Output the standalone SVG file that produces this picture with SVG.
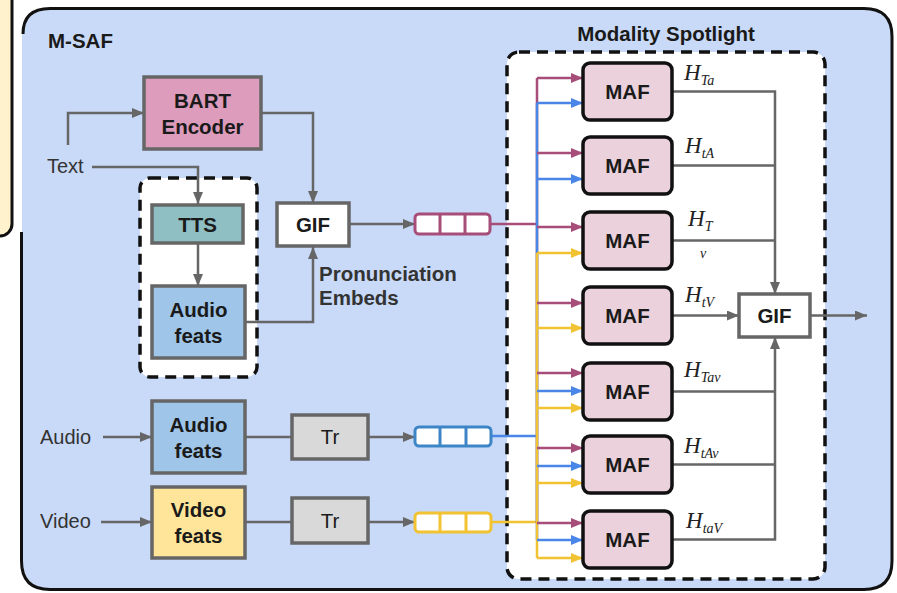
<svg xmlns="http://www.w3.org/2000/svg" width="897" height="593" viewBox="0 0 897 593">
<style>
.lbl{font-family:"Liberation Sans",Arial,sans-serif;font-weight:bold;font-size:20.5px;fill:#1a1a1a;text-anchor:middle}
.plain{font-family:"Liberation Sans",Arial,sans-serif;font-size:20px;fill:#333;}
.box{stroke:#666;stroke-width:3.5}
.maf{fill:#ead1dc;stroke:#111;stroke-width:3.5}
.g{stroke:#666;stroke-width:2.5;fill:none}
.pk{stroke:#a64d79;stroke-width:2.5;fill:none}
.bl{stroke:#4a86e8;stroke-width:2.5;fill:none}
.yl{stroke:#f1c232;stroke-width:2.5;fill:none}
.h{font-family:"Liberation Serif","Times New Roman",serif;font-style:italic;fill:#222}
.hb{font-size:23px}
.hs{font-size:14px}
.tok{fill:#fff;stroke-width:3}
</style>
<defs>
<marker id="ag" viewBox="0 0 12 10" refX="12" refY="5" markerWidth="13" markerHeight="10" markerUnits="userSpaceOnUse" orient="auto"><path d="M0,0 L12,5 L0,10 z" fill="#666"/></marker>
<marker id="ap" viewBox="0 0 12 10" refX="12" refY="5" markerWidth="13" markerHeight="10" markerUnits="userSpaceOnUse" orient="auto"><path d="M0,0 L12,5 L0,10 z" fill="#a64d79"/></marker>
<marker id="ab" viewBox="0 0 12 10" refX="12" refY="5" markerWidth="13" markerHeight="10" markerUnits="userSpaceOnUse" orient="auto"><path d="M0,0 L12,5 L0,10 z" fill="#4a86e8"/></marker>
<marker id="ay" viewBox="0 0 12 10" refX="12" refY="5" markerWidth="13" markerHeight="10" markerUnits="userSpaceOnUse" orient="auto"><path d="M0,0 L12,5 L0,10 z" fill="#f1c232"/></marker>
</defs>
<rect width="897" height="593" fill="#fff"/>
<g id="left-panel">
<rect x="-30" y="-30" width="42" height="266" rx="12" fill="#fff2cc" stroke="#111" stroke-width="3"/>
</g>
<g id="msaf">
<rect x="22" y="8.5" width="870" height="581" rx="28" fill="#c9daf8"/>
<path d="M21.5,232 L21.5,561 Q21.5,589.5 50,589.5 L864,589.5 Q892,589.5 892,561 L892,36.5 Q892,8.5 864,8.5 L50,8.5 Q23,8.5 23,34" fill="none" stroke="#111" stroke-width="3"/>
<text x="48" y="48" class="lbl" style="text-anchor:start">M-SAF</text>
</g>
<g id="spotlight">
<rect x="507" y="52" width="318" height="527" rx="12" fill="#fff" stroke="#111" stroke-width="3.5" stroke-dasharray="11,7"/>
<text x="666" y="41" class="lbl">Modality Spotlight</text>
</g>
<g id="tts-group">
<rect x="140" y="178" width="117" height="199" rx="10" fill="#fff" stroke="#111" stroke-width="3.5" stroke-dasharray="11,7"/>
</g>
<g id="connectors">
<path class="g" d="M68,145 L68,113 L144,113" marker-end="url(#ag)"/>
<path class="g" d="M92,167 L198,167 L198,204" marker-end="url(#ag)"/>
<path class="g" d="M198,243 L198,286" marker-end="url(#ag)"/>
<path class="g" d="M261,113 L313,113 L313,203" marker-end="url(#ag)"/>
<path class="g" d="M245,322 L313,322 L313,247" marker-end="url(#ag)"/>
<path class="g" d="M349,224 L415,224" marker-end="url(#ag)"/>
<path class="g" d="M103,437 L152,437" marker-end="url(#ag)"/>
<path class="g" d="M245,437 L292,437"/>
<path class="g" d="M368,437 L415,437" marker-end="url(#ag)"/>
<path class="g" d="M101,522 L152,522" marker-end="url(#ag)"/>
<path class="g" d="M245,522 L292,522"/>
<path class="g" d="M368,522 L415,522" marker-end="url(#ag)"/>
<path class="pk" d="M490,224 L537,224"/>
<path class="bl" d="M491,436 L537,436"/>
<path class="yl" d="M491,522 L537,522"/>
<path class="pk" d="M537,78 L537,523"/>
<path class="bl" d="M537,103 L537,540"/>
<path class="yl" d="M537,253 L537,558"/>
<g class="pk">
<path d="M537,78 L583,78" marker-end="url(#ap)"/>
<path d="M537,153 L583,153" marker-end="url(#ap)"/>
<path d="M537,227 L583,227" marker-end="url(#ap)"/>
<path d="M537,303 L583,303" marker-end="url(#ap)"/>
<path d="M537,373 L583,373" marker-end="url(#ap)"/>
<path d="M537,448 L583,448" marker-end="url(#ap)"/>
<path d="M537,523 L583,523" marker-end="url(#ap)"/>
</g>
<g class="bl">
<path d="M537,103 L583,103" marker-end="url(#ab)"/>
<path d="M537,179 L583,179" marker-end="url(#ab)"/>
<path d="M537,391 L583,391" marker-end="url(#ab)"/>
<path d="M537,466 L583,466" marker-end="url(#ab)"/>
<path d="M537,540 L583,540" marker-end="url(#ab)"/>
</g>
<g class="yl">
<path d="M537,253 L583,253" marker-end="url(#ay)"/>
<path d="M537,328 L583,328" marker-end="url(#ay)"/>
<path d="M537,408 L583,408" marker-end="url(#ay)"/>
<path d="M537,483 L583,483" marker-end="url(#ay)"/>
<path d="M537,558 L583,558" marker-end="url(#ay)"/>
</g>
<path class="g" d="M672,91.5 L775,91.5 L775,294" marker-end="url(#ag)"/>
<path class="g" d="M672,165.5 L775,165.5"/>
<path class="g" d="M672,240.5 L775,240.5"/>
<path class="g" d="M672,315.5 L739,315.5" marker-end="url(#ag)"/>
<path class="g" d="M672,391.5 L775,391.5"/>
<path class="g" d="M672,464.5 L775,464.5"/>
<path class="g" d="M672,539.5 L775,539.5 L775,337" marker-end="url(#ag)"/>
<path class="g" d="M810,315.5 L867,315.5" marker-end="url(#ag)"/>
</g>
<text x="47" y="173" class="plain">Text</text>
<g id="bart"><rect x="144" y="77" width="117" height="72" fill="#dd9cbb" class="box"/><text x="202.5" y="108" class="lbl">BART</text><text x="202.5" y="134" class="lbl">Encoder</text></g>
<g id="tts"><rect x="152" y="205" width="91" height="38" fill="#8fbfc2" class="box"/><text x="197.5" y="231.5" class="lbl">TTS</text></g>
<g id="audio-feats-1"><rect x="152" y="286" width="93" height="72" fill="#9fc5e8" class="box"/><text x="198.5" y="317" class="lbl">Audio</text><text x="198.5" y="343" class="lbl">feats</text></g>
<g id="gif-1"><rect x="277" y="203" width="72" height="43" fill="#fff" class="box"/><text x="313" y="232" class="lbl">GIF</text></g>
<text x="319" y="281" class="lbl" style="text-anchor:start;fill:#333">Pronunciation</text>
<text x="319" y="305" class="lbl" style="text-anchor:start;fill:#333">Embeds</text>
<g id="tok-text"><rect x="415" y="214" width="75" height="20" rx="4" class="tok" stroke="#a64d79"/><path d="M440,214 V234 M465,214 V234" stroke="#a64d79" stroke-width="3"/></g>
<text x="40" y="444" class="plain">Audio</text>
<g id="audio-feats-2"><rect x="152" y="401" width="93" height="72" fill="#9fc5e8" class="box"/><text x="198.5" y="432" class="lbl">Audio</text><text x="198.5" y="458" class="lbl">feats</text></g>
<g id="tr-audio"><rect x="292" y="415" width="76" height="44" fill="#d9d9d9" class="box"/><text x="330" y="444" class="lbl" style="font-weight:normal">Tr</text></g>
<g id="tok-audio"><rect x="415" y="427" width="76" height="19" rx="4" class="tok" stroke="#3d85c6"/><path d="M440,427 V446 M466,427 V446" stroke="#3d85c6" stroke-width="3"/></g>
<text x="40" y="528" class="plain">Video</text>
<g id="video-feats"><rect x="152" y="487" width="93" height="71" fill="#ffe599" class="box"/><text x="198.5" y="517" class="lbl">Video</text><text x="198.5" y="543" class="lbl">feats</text></g>
<g id="tr-video"><rect x="292" y="498" width="76" height="45" fill="#d9d9d9" class="box"/><text x="330" y="528" class="lbl" style="font-weight:normal">Tr</text></g>
<g id="tok-video"><rect x="415" y="513" width="76" height="19" rx="4" class="tok" stroke="#f1c232"/><path d="M440,513 V532 M466,513 V532" stroke="#f1c232" stroke-width="3"/></g>
<g id="maf1"><rect x="583" y="63" width="89" height="57" rx="7" class="maf"/><text x="627.5" y="99" class="lbl">MAF</text></g>
<g id="maf2"><rect x="583" y="137" width="89" height="57" rx="7" class="maf"/><text x="627.5" y="173" class="lbl">MAF</text></g>
<g id="maf3"><rect x="583" y="212" width="89" height="57" rx="7" class="maf"/><text x="627.5" y="248" class="lbl">MAF</text></g>
<g id="maf4"><rect x="583" y="287" width="89" height="57" rx="7" class="maf"/><text x="627.5" y="323" class="lbl">MAF</text></g>
<g id="maf5"><rect x="583" y="363" width="89" height="57" rx="7" class="maf"/><text x="627.5" y="399" class="lbl">MAF</text></g>
<g id="maf6"><rect x="583" y="436" width="89" height="57" rx="7" class="maf"/><text x="627.5" y="472" class="lbl">MAF</text></g>
<g id="maf7"><rect x="583" y="511" width="89" height="57" rx="7" class="maf"/><text x="627.5" y="547" class="lbl">MAF</text></g>
<g id="gif-2"><rect x="739" y="294" width="71" height="43" fill="#fff" class="box"/><text x="774.5" y="323" class="lbl">GIF</text></g>
<text x="684" y="80" class="h hb">H<tspan class="hs" dy="5">Ta</tspan></text>
<text x="685" y="153" class="h hb">H<tspan class="hs" dy="5">tA</tspan></text>
<text x="688" y="226" class="h hb">H<tspan class="hs" dy="5">T</tspan></text>
<text x="700" y="258" class="h hs">v</text>
<text x="685" y="302" class="h hb">H<tspan class="hs" dy="5">tV</tspan></text>
<text x="684" y="377" class="h hb">H<tspan class="hs" dy="5">Tav</tspan></text>
<text x="684" y="453" class="h hb">H<tspan class="hs" dy="5">tAv</tspan></text>
<text x="686" y="528" class="h hb">H<tspan class="hs" dy="5">taV</tspan></text>
</svg>
